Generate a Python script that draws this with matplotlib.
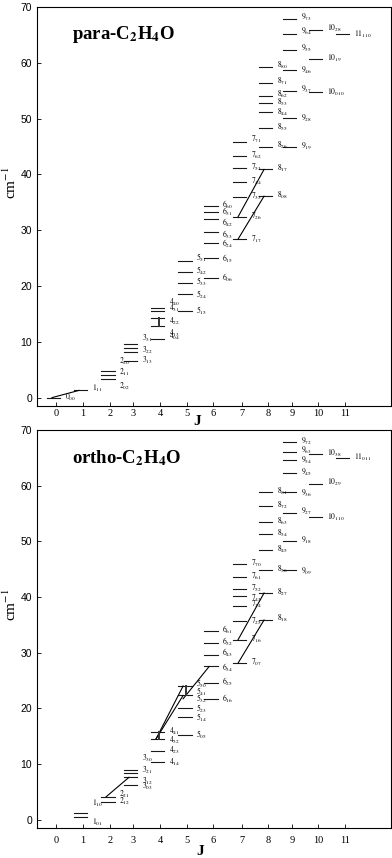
import matplotlib
matplotlib.use("Agg")
import matplotlib.pyplot as plt

plt.rcParams['mathtext.fontset'] = 'stix'
plt.rcParams['font.family'] = ['Liberation Serif', 'DejaVu Serif']

# J columns (the original axis has slightly uneven tick spacing)
j_ticks = list(range(12))
j_col = [0, 1.03, 2.06, 2.93, 3.96, 4.99, 5.98, 7.08, 8.07, 8.98, 9.97, 11.0]

# ---- para levels: J and energy (cm-1) of each drawn line
para_J = [0, 1, 2, 2, 2, 3, 3, 3, 3, 4, 4, 4, 4, 4,
          5, 5, 5, 5, 5, 6, 6, 6, 6, 6, 6, 6,
          7, 7, 7, 7, 7, 7, 7, 8, 8, 8, 8, 8, 8, 8, 8, 8,
          9, 9, 9, 9, 9, 9, 9, 10, 10, 10, 11]
para_E = [0, 1.3, 3.4, 4.05, 4.7, 6.5, 8.1, 8.85, 9.6, 10.45, 12.9, 14.2, 15.5, 16.0,
          15.5, 18.5, 20.6, 22.6, 24.4, 21.5, 24.95, 27.8, 29.7, 32.1, 33.3, 34.35,
          28.4, 32.4, 36.0, 38.7, 41.1, 43.3, 45.9,
          36.1, 40.9, 45.0, 48.4, 51.1, 52.8, 54.1, 56.3, 59.3,
          44.9, 50.2, 55.0, 58.8, 62.3, 65.1, 67.9, 54.7, 60.6, 65.8, 65.1]

# para labels: text, column, energy where the label sits
para_lab = ["0_00", "1_11", "2_02", "2_11", "2_20", "3_13", "3_22", "3_31",
            "4_04", "4_13", "4_22", "4_31", "4_40",
            "5_15", "5_24", "5_33", "5_42", "5_51",
            "6_06", "6_15", "6_24", "6_33", "6_42", "6_51", "6_60",
            "7_17", "7_26", "7_35", "7_44", "7_53", "7_62", "7_71",
            "8_08", "8_17", "8_26", "8_35", "8_44", "8_53", "8_62", "8_71", "8_80",
            "9_19", "9_28", "9_37", "9_46", "9_55", "9_64", "9_73",
            "10_010", "10_19", "10_28", "11_110"]
para_lab_E = [0, 1.6, 2.1, 4.6, 6.45, 6.7, 8.4, 10.6,
              11.0, 11.6, 13.7, 16.0, 17.0,
              15.5, 18.4, 20.8, 22.8, 25.0,
              21.5, 24.9, 27.6, 29.2, 31.4, 33.2, 34.6,
              28.4, 32.4, 36.0, 38.8, 41.3, 43.4, 46.2,
              36.2, 41.0, 45.2, 48.5, 51.2, 52.9, 54.4, 56.6, 59.5,
              45.0, 50.1, 55.3, 58.6, 62.5, 65.6, 68.2,
              54.7, 60.8, 66.1, 65.1]

# para connecting lines (J_lo, E_lo, J_hi, E_hi)
para_links = [(0, 0, 1, 1.3), (7, 32.4, 8, 40.9), (7, 28.4, 8, 36.1)]
para_bars = [(4, 12.9, 14.2)]

# ---- ortho levels
ortho_J = [1, 1, 2, 2, 3, 3, 3, 3, 4, 4, 4, 4,
           5, 5, 5, 5, 5, 6, 6, 6, 6, 6, 6,
           7, 7, 7, 7, 7, 7, 7, 7, 8, 8, 8, 8, 8, 8, 8, 8,
           9, 9, 9, 9, 9, 9, 9, 9, 10, 10, 10, 11]
ortho_E = [0.55, 1.1, 3.2, 4.1, 6.2, 7.6, 8.3, 9.0, 10.3, 12.3, 14.5, 15.7,
           15.2, 18.4, 20.1, 22.3, 24.0, 21.7, 24.55, 27.5, 29.6, 31.7, 33.8,
           28.1, 32.3, 35.6, 38.3, 40.1, 41.4, 43.5, 45.9,
           35.85, 40.7, 44.8, 48.5, 51.3, 53.5, 56.3, 58.85,
           44.8, 50.1, 55.0, 58.8, 62.2, 64.5, 66.0, 67.9, 54.3, 60.3, 65.7, 65.0]

ortho_lab = ["1_01", "1_10", "2_12", "2_21", "3_03", "3_12", "3_21", "3_30",
             "4_14", "4_23", "4_32", "4_41",
             "5_05", "5_14", "5_23", "5_32", "5_41", "5_50",
             "6_16", "6_25", "6_34", "6_43", "6_52", "6_61",
             "7_07", "7_16", "7_25", "7_34", "7_43", "7_52", "7_61", "7_70",
             "8_18", "8_27", "8_36", "8_45", "8_54", "8_63", "8_72", "8_81",
             "9_09", "9_18", "9_27", "9_36", "9_45", "9_54", "9_63", "9_72",
             "10_110", "10_29", "10_38", "11_011"]
ortho_lab_E = [-0.5, 2.9, 3.2, 4.5, 5.9, 6.8, 8.9, 11.0,
               10.3, 12.5, 14.3, 15.9,
               15.3, 18.3, 19.8, 21.7, 23.0, 24.3,
               21.6, 24.7, 27.3, 30.0, 31.9, 34.0,
               28.3, 32.3, 35.6, 38.6, 39.7, 41.6, 43.6, 46.1,
               36.2, 40.8, 45.0, 48.6, 51.4, 53.5, 56.5, 59.0,
               44.6, 50.2, 55.3, 58.6, 62.4, 64.6, 66.3, 68.0,
               54.2, 60.5, 65.8, 65.0]

ortho_links = [(2, 4.1, 3, 7.6), (4, 14.5, 5, 24.0), (4, 14.5, 5, 22.3),
               (5, 21.7, 6, 27.5), (7, 32.3, 8, 40.7), (7, 28.1, 8, 35.85)]
ortho_bars = [(4, 14.5, 15.7), (5, 22.3, 24.0)]


def fmt(name):
    n, k = name.split("_")
    return "$" + n + "_{" + k + "}$"


def draw_panel(ax, lev_J, lev_E, labs, lab_E, links, bars, title):
    for j, e in zip(lev_J, lev_E):
        c = j_col[j]
        ax.plot([c - 0.35, c + 0.17], [e, e], color="#1a1a1a", lw=0.8)
    for name, e in zip(labs, lab_E):
        j = int(name.split("_")[0])
        ax.text(j_col[j] + 0.34, e, fmt(name), fontsize=5.5, va="center", ha="left")
    for j1, e1, j2, e2 in links:
        ax.plot([j_col[j1] - 0.15, j_col[j2] - 0.15], [e1, e2], color="black", lw=0.8)
    for j, e1, e2 in bars:
        ax.plot([j_col[j] - 0.05, j_col[j] - 0.05], [e1, e2], color="#333", lw=1.4)

    ax.set_xlim(-0.72, 12.75)
    ax.set_ylim(-1.5, 70)
    ax.set_xticks(j_col)
    ax.set_xticklabels([str(j) for j in j_ticks], fontsize=7.5)
    ax.set_yticks(range(0, 71, 10))
    ax.set_yticklabels([str(v) for v in range(0, 71, 10)], fontsize=7.5,
                       family="Liberation Sans")
    ax.tick_params(direction="in", length=3, width=0.6)
    for s in ax.spines.values():
        s.set_linewidth(0.8)
    ax.set_ylabel("cm$^{-1}$", fontsize=11)
    ax.yaxis.set_label_coords(-0.05, 0.56)
    ax.text(0.1, 0.93, title, transform=ax.transAxes, fontsize=13.5,
            fontweight="bold", va="center", ha="left")


fig = plt.figure(figsize=(3.92, 8.58), dpi=100)
ax1 = fig.add_axes([0.0944, 0.5268, 0.903, 0.465])
ax2 = fig.add_axes([0.0944, 0.035, 0.903, 0.464])

draw_panel(ax1, para_J, para_E, para_lab, para_lab_E, para_links, para_bars,
           r"para-C$_\mathbf{2}$H$_\mathbf{4}$O")
draw_panel(ax2, ortho_J, ortho_E, ortho_lab, ortho_lab_E, ortho_links, ortho_bars,
           r"ortho-C$_\mathbf{2}$H$_\mathbf{4}$O")

ax1.tick_params(axis="x", pad=2)
ax2.tick_params(axis="x", pad=6)
ax1.text(0.452, -0.04, "J", transform=ax1.transAxes, fontsize=11,
         fontweight="bold", ha="center", va="center")
ax2.text(0.46, -0.058, "J", transform=ax2.transAxes, fontsize=11,
         fontweight="bold", ha="center", va="center")

fig.savefig("out.png", dpi=100)
